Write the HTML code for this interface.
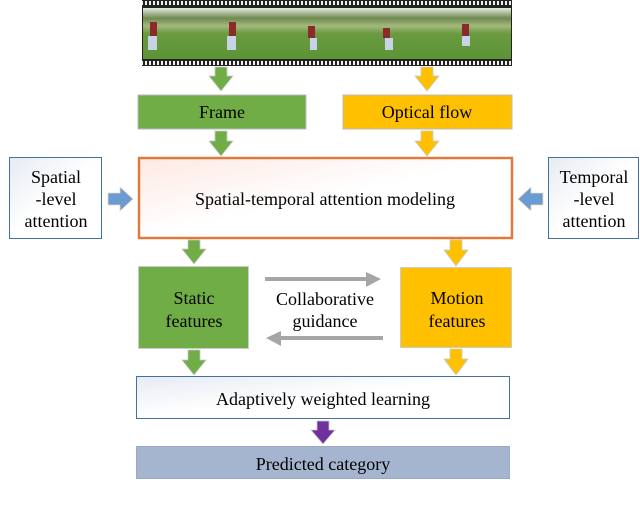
<!DOCTYPE html>
<html><head><style>
body{margin:0;background:#fff;}
svg{display:block;font-family:"Liberation Serif",serif;}
</style></head><body>
<svg width="640" height="518" viewBox="0 0 640 518" xmlns="http://www.w3.org/2000/svg">
<defs>
<pattern id="holes" x="0" y="0" width="4" height="6" patternUnits="userSpaceOnUse">
<rect width="4" height="6" fill="#222"/><rect x="1" y="1" width="2" height="4" fill="#eee"/>
</pattern>
<linearGradient id="sky" x1="0" y1="0" x2="0" y2="1">
<stop offset="0" stop-color="#e4ebe0"/><stop offset="0.2" stop-color="#6e8a50"/><stop offset="0.35" stop-color="#a4b87c"/><stop offset="0.5" stop-color="#6a9a40"/><stop offset="1" stop-color="#5c9436"/>
</linearGradient>
<linearGradient id="wg" x1="0" y1="0" x2="1" y2="1">
<stop offset="0" stop-color="#e6ebf2"/><stop offset="0.5" stop-color="#fff"/><stop offset="1" stop-color="#fff"/>
</linearGradient>
<linearGradient id="pg" x1="0" y1="0" x2="1" y2="1">
<stop offset="0" stop-color="#fde9e4"/><stop offset="0.5" stop-color="#fff"/><stop offset="1" stop-color="#fff"/>
</linearGradient>
</defs>
<rect x="142" y="0" width="370" height="66" fill="#222"/>
<rect x="142" y="1" width="370" height="6" fill="url(#holes)"/>
<rect x="142" y="59" width="370" height="6" fill="url(#holes)"/>
<rect x="143" y="8" width="368" height="51" fill="url(#sky)"/>
<g fill="#8a2a2a"><rect x="150" y="22" width="7" height="14"/><rect x="229" y="22" width="7" height="14"/><rect x="308" y="26" width="7" height="12"/><rect x="383" y="28" width="7" height="10"/><rect x="462" y="24" width="7" height="12"/></g>
<g fill="#c8d4e6"><rect x="148" y="36" width="9" height="14"/><rect x="227" y="36" width="9" height="14"/><rect x="310" y="38" width="7" height="12"/><rect x="385" y="38" width="8" height="12"/><rect x="462" y="36" width="8" height="10"/></g>
<g fill="#70ad47" stroke="#c9c9c9" stroke-width="0.8">
<polygon points="215,67 227,67 227,76 233,76 221,91 209,76 215,76"/>
<polygon points="215,131 227,131 227,141 233,141 221,156 209,141 215,141"/>
<polygon points="188,240 200,240 200,249 206,249 194,264 182,249 188,249"/>
<polygon points="188,350 200,350 200,360 206,360 194,375 182,360 188,360"/>
</g>
<g fill="#ffc000" stroke="#c9c9c9" stroke-width="0.8">
<polygon points="421,67 433,67 433,76 439,76 427,91 415,76 421,76"/>
<polygon points="421,131 433,131 433,141 439,141 427,156 415,141 421,141"/>
<polygon points="450,240 462,240 462,250 468,250 456,266 444,250 450,250"/>
<polygon points="450,349 462,349 462,359 468,359 456,375 444,359 450,359"/>
</g>
<polygon points="317,421 329,421 329,430 335,430 323,444 311,430 317,430" fill="#7030a0" stroke="#c9c9c9" stroke-width="0.8"/>
<g font-size="18" text-anchor="middle">
<rect x="138" y="95" width="168" height="34" fill="#70ad47" stroke="#bbb"/>
<text x="222" y="118">Frame</text>
<rect x="343" y="95" width="169" height="34" fill="#ffc000" stroke="#bbb"/>
<text x="427" y="118">Optical flow</text>
<rect x="139" y="158" width="373" height="80" fill="url(#pg)" stroke="#e07a3a" stroke-width="2.5"/>
<text x="325" y="205">Spatial-temporal attention modeling</text>
<rect x="9.5" y="157.5" width="92" height="81" fill="url(#wg)" stroke="#41719c"/>
<text x="56" y="183">Spatial</text>
<text x="56" y="205">-level</text>
<text x="56" y="227">attention</text>
<rect x="548.5" y="157.5" width="90" height="81" fill="url(#wg)" stroke="#41719c"/>
<text x="594" y="183">Temporal</text>
<text x="594" y="205">-level</text>
<text x="594" y="227">attention</text>
<rect x="138.5" y="266.5" width="110" height="82" fill="#70ad47" stroke="#ccc"/>
<text x="194" y="304">Static</text>
<text x="194" y="327">features</text>
<rect x="400.5" y="267.5" width="111" height="80" fill="#ffc000" stroke="#ccc"/>
<text x="457" y="304">Motion</text>
<text x="457" y="327">features</text>
<text x="325" y="305">Collaborative</text>
<text x="325" y="327">guidance</text>
<rect x="136.5" y="376.5" width="373" height="42" fill="url(#wg)" stroke="#41719c"/>
<text x="323" y="405">Adaptively weighted learning</text>
<rect x="136.5" y="446.5" width="373" height="32" fill="#a5b5cf" stroke="#9aaac0"/>
<text x="323" y="470">Predicted category</text>
</g>
<g fill="#6a9bd2" stroke="#e8dcc0" stroke-width="0.8">
<polygon points="108,193 120,193 120,187 133,199 120,211 120,205 108,205"/>
<polygon points="543,193 531,193 531,187 518,199 531,211 531,205 543,205"/>
</g>
<g fill="#a6a6a6">
<rect x="265" y="277" width="102" height="4"/><polygon points="366,272 381,279 366,287"/>
<rect x="280" y="336" width="103" height="4"/><polygon points="281,331 266,338 281,346"/>
</g>
</svg>
</body></html>
